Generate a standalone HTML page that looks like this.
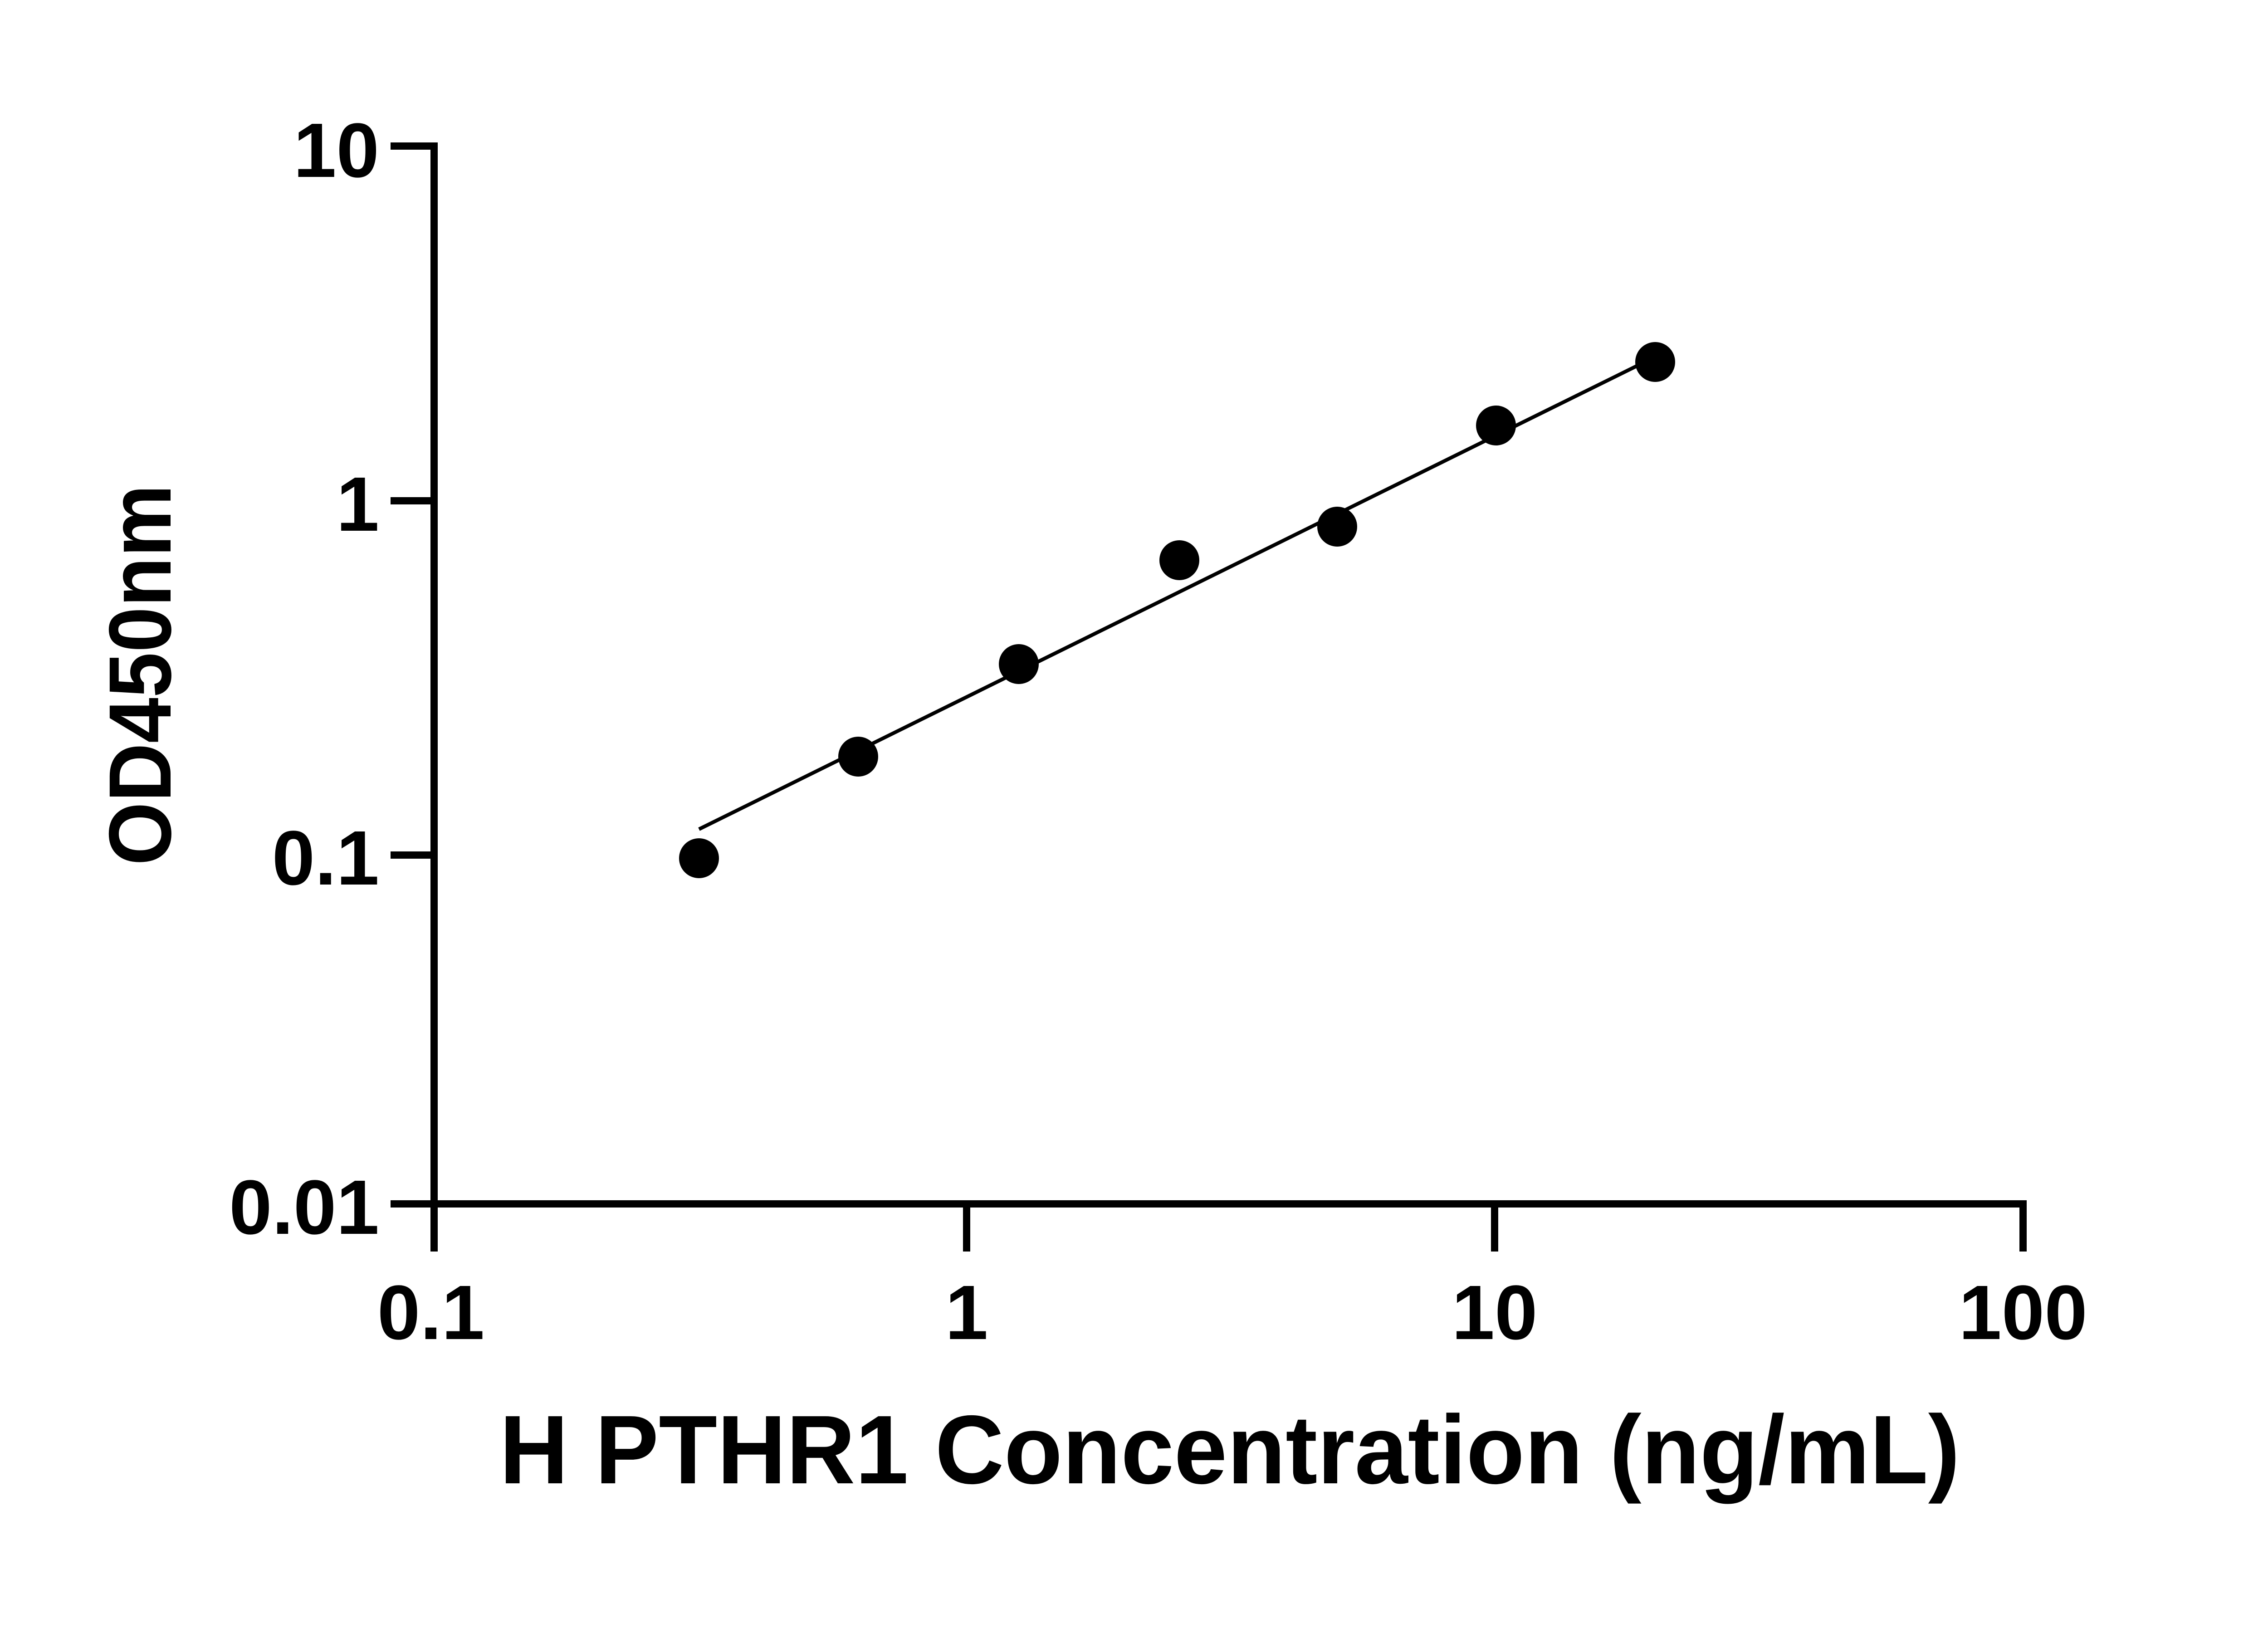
<!DOCTYPE html>
<html><head><meta charset="utf-8"><style>
html,body{margin:0;padding:0;background:#fff;}
svg{display:block;}
text{font-family:"Liberation Sans",Arial,sans-serif;font-weight:bold;fill:#000;}
</style></head><body>
<svg width="5142" height="3600" viewBox="0 0 5142 3600" xmlns="http://www.w3.org/2000/svg">
<g stroke="#000" stroke-width="16" fill="none" stroke-linecap="butt">
<line x1="957" y1="314" x2="957" y2="2759"/>
<line x1="949" y1="2654" x2="4460" y2="2654"/>
<line x1="861" y1="322" x2="957" y2="322"/>
<line x1="861" y1="1104" x2="957" y2="1104"/>
<line x1="861" y1="1885" x2="957" y2="1885"/>
<line x1="861" y1="2654" x2="957" y2="2654"/>
<line x1="2131" y1="2654" x2="2131" y2="2759"/>
<line x1="3295" y1="2654" x2="3295" y2="2759"/>
<line x1="4460" y1="2646" x2="4460" y2="2759"/>
</g>
<g font-size="170" text-anchor="end">
<text x="836" y="390">10</text>
<text x="836" y="1170">1</text>
<text x="836" y="1950">0.1</text>
<text x="836" y="2720">0.01</text>
</g>
<g font-size="170" text-anchor="middle">
<text x="950" y="2952">0.1</text>
<text x="2131" y="2952">1</text>
<text x="3295" y="2952">10</text>
<text x="4460" y="2952">100</text>
</g>
<text x="2711" y="3270" font-size="215" text-anchor="middle" textLength="3220" lengthAdjust="spacingAndGlyphs">H PTHR1 Concentration (ng/mL)</text>
<text transform="translate(376,1488) rotate(-90)" font-size="195" text-anchor="middle" textLength="840" lengthAdjust="spacingAndGlyphs">OD450nm</text>
<line x1="1541" y1="1828" x2="3614" y2="804" stroke="#000" stroke-width="8"/>
<g fill="#000">
<circle cx="1541" cy="1892" r="44"/>
<circle cx="1892" cy="1668" r="44"/>
<circle cx="2246" cy="1464" r="44"/>
<circle cx="2600" cy="1235" r="44"/>
<circle cx="2948" cy="1161" r="44"/>
<circle cx="3298" cy="938" r="44"/>
<circle cx="3649" cy="798" r="44"/>
</g>
</svg>
</body></html>
